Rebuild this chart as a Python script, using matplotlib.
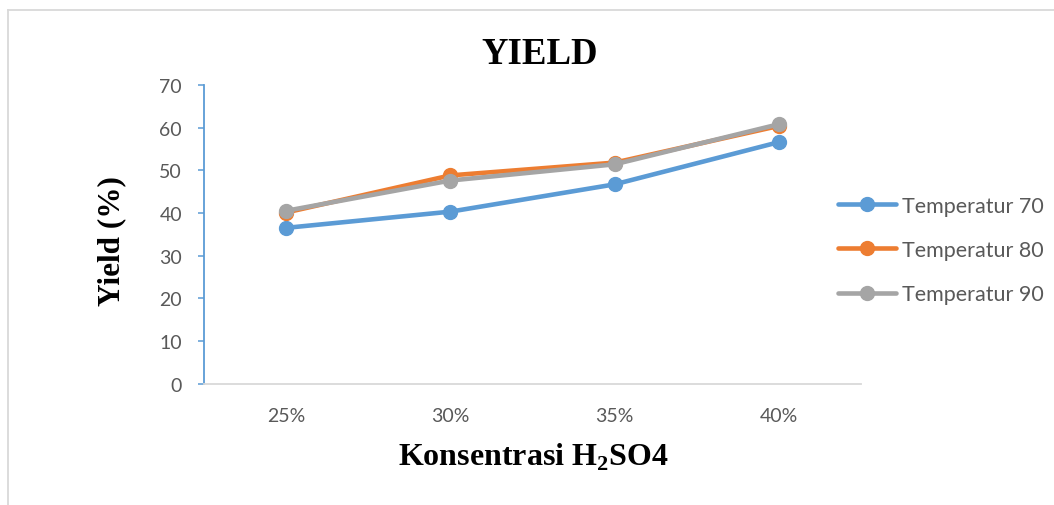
import matplotlib
matplotlib.use("Agg")
import matplotlib.pyplot as plt
from matplotlib.lines import Line2D

# Data
categories = ["25%", "30%", "35%", "40%"]
series_names = ["Temperatur 70", "Temperatur 80", "Temperatur 90"]
temp70 = [36.5, 40.3, 46.7, 56.6]
temp80 = [40.1, 48.8, 51.8, 60.4]
temp90 = [40.5, 47.6, 51.4, 60.8]
y_ticks = [0, 10, 20, 30, 40, 50, 60, 70]

colors = ["#5B9BD5", "#ED7D31", "#A5A5A5"]
tick_color = "#595959"

plt.rcParams["mathtext.fontset"] = "custom"
plt.rcParams["mathtext.rm"] = "Liberation Serif:bold"
plt.rcParams["mathtext.bf"] = "Liberation Serif:bold"

W, H = 1054, 506
fig = plt.figure(figsize=(W / 100, H / 100), dpi=100)
fig.patch.set_facecolor("white")

# outer chart border (top and left edges)
border_kw = dict(color="#D9D9D9", linewidth=1.3, transform=fig.transFigure)
fig.add_artist(Line2D([7.5 / W, 1.0], [1 - 11 / H, 1 - 11 / H], **border_kw))
fig.add_artist(Line2D([7.5 / W, 7.5 / W], [0.0, 1 - 11 / H], **border_kw))

ax = fig.add_axes([204 / W, 1 - 384.5 / H, (861 - 204) / W, (384.5 - 86) / H])
x = list(range(len(categories)))

for vals, name, c in zip([temp70, temp80, temp90], series_names, colors):
    ax.plot(x, vals, color=c, linewidth=3.3, marker="o", markersize=10,
            label=name, solid_capstyle="round", solid_joinstyle="round")

ax.set_xlim(-0.5, len(categories) - 0.5)
ax.set_ylim(0, 70)
ax.set_yticks(y_ticks)
ax.set_xticks(x)
ax.set_xticklabels(categories)

for s in ["top", "right"]:
    ax.spines[s].set_visible(False)
ax.spines["left"].set_color("#5B9BD5")
ax.spines["left"].set_linewidth(1.3)
ax.spines["bottom"].set_color("#D9D9D9")
ax.spines["bottom"].set_linewidth(1.3)

ax.tick_params(axis="y", direction="out", length=4.3, width=1.1,
               color="#5B9BD5", pad=11.5, labelsize=14, labelcolor=tick_color)
ax.tick_params(axis="x", length=0, pad=17, labelsize=14, labelcolor=tick_color)
for lab in ax.get_xticklabels() + ax.get_yticklabels():
    lab.set_fontfamily("Lato")

fig.text(539.5 / W, 1 - 54 / H, "YIELD", ha="center", va="center",
         fontsize=26.5, fontweight="bold", family="Liberation Serif")
fig.text(112 / W, 1 - 241.5 / H, "Yield (%)", ha="center", va="center",
         rotation=90, fontsize=22.5, fontweight="bold", family="Liberation Serif")
fig.text(533 / W, 1 - 457 / H, r"Konsentrasi H$_\mathbf{2}$SO4", ha="center",
         va="center", fontsize=23, fontweight="bold", family="Liberation Serif")

leg = fig.legend(loc="center left", bbox_to_anchor=(838 / W, 1 - 251 / H),
                 frameon=False, borderpad=0, borderaxespad=0, handlelength=2.7,
                 handletextpad=0.25, labelspacing=1.12,
                 prop={"family": "Lato", "size": 15.5})
for t in leg.get_texts():
    t.set_color(tick_color)

fig.savefig("out.png", dpi=100)
